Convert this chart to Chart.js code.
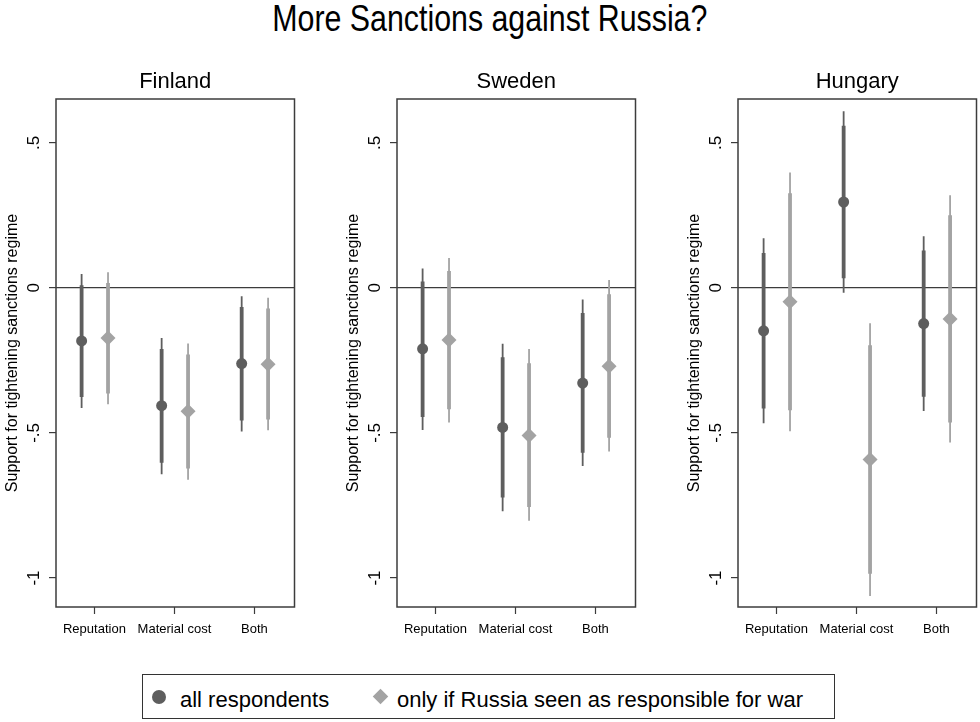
<!DOCTYPE html>
<html>
<head>
<meta charset="utf-8">
<title>More Sanctions against Russia?</title>
<script src="https://cdn.jsdelivr.net/npm/chart.js@4/dist/chart.umd.min.js"></script>
<style>
  html, body { margin: 0; padding: 0; background: #fff; }
  body { width: 980px; height: 722px; position: relative; overflow: hidden;
         font-family: "Liberation Sans", Arial, sans-serif; color: #000; }
  #title { position: absolute; left: 0; top: 0; width: 980px; text-align: center;
           font-size: 37px; line-height: 37px; white-space: nowrap;
           transform: scaleX(0.82); transform-origin: 489px 0; }
  .panel { position: absolute; top: 50px; width: 302px; height: 600px; }
  #legend { position: absolute; left: 142px; top: 674px; width: 693px; height: 45px;
            box-sizing: border-box; border: 1px solid #333; }
  .item { position: absolute; top: 14px; font-size: 22px; line-height: 22px; white-space: nowrap; }
  .dot { position: absolute; width: 14px; height: 14px; border-radius: 50%; }
  .diamond { position: absolute; width: 11px; height: 11px; transform: rotate(45deg); }
</style>
</head>
<body>
<div id="title">More Sanctions against Russia?</div>
<div class="panel" style="left:0px"><canvas id="p0" width="302" height="600"></canvas></div>
<div class="panel" style="left:341px"><canvas id="p1" width="302" height="600"></canvas></div>
<div class="panel" style="left:682px"><canvas id="p2" width="302" height="600"></canvas></div>
<div id="legend"></div>

<script>
// Treatment categories, country panels and the two respondent groups
const categories = ['Reputation', 'Material cost', 'Both'];
const countries = ['Finland', 'Sweden', 'Hungary'];
const seriesNames = ['all respondents', 'only if Russia seen as responsible for war'];
const yTicks = [-1, -0.5, 0, 0.5];
const yTitle = 'Support for tightening sanctions regime';

// Rows: Finland, Sweden, Hungary. Columns follow `categories`.
// All respondents: point estimate, inner (thick) interval, outer (thin) interval
const allEst  = [[-0.183, -0.406, -0.261], [-0.210, -0.481, -0.328], [-0.148,  0.296, -0.123]];
const allLo90 = [[-0.376, -0.603, -0.457], [-0.445, -0.723, -0.568], [-0.416,  0.033, -0.375]];
const allHi90 = [[ 0.009, -0.211, -0.066], [ 0.022, -0.239, -0.087], [ 0.120,  0.559,  0.129]];
const allLo95 = [[-0.414, -0.642, -0.495], [-0.490, -0.770, -0.614], [-0.467, -0.017, -0.424]];
const allHi95 = [[ 0.048, -0.173, -0.029], [ 0.067, -0.193, -0.040], [ 0.171,  0.609,  0.178]];

// Respondents who see Russia as responsible for the war
const respEst  = [[-0.173, -0.425, -0.263], [-0.180, -0.509, -0.270], [-0.048, -0.592, -0.107]];
const respLo90 = [[-0.364, -0.623, -0.454], [-0.418, -0.755, -0.517], [-0.422, -0.985, -0.464]];
const respHi90 = [[ 0.017, -0.230, -0.071], [ 0.058, -0.260, -0.022], [ 0.326, -0.198,  0.250]];
const respLo95 = [[-0.401, -0.661, -0.491], [-0.464, -0.803, -0.564], [-0.494, -1.062, -0.533]];
const respHi95 = [[ 0.054, -0.192, -0.034], [ 0.103, -0.211,  0.027], [ 0.398, -0.122,  0.319]];

// Styling
const DARK = '#5e5e5e';
const LIGHT = '#a3a3a3';
const INK = '#3c3c3c';
const OFFSETS = [-0.16, 0.17];   // horizontal dodge of the two groups within a category

Chart.defaults.font.family = "'Liberation Sans', Arial, sans-serif";
Chart.defaults.color = '#000';

function fmtTick(v) {
  if (v === 0) return '0';
  return (v < 0 ? '-' : '') + String(Math.abs(v)).replace(/^0\./, '.');
}

// Frame around the plot region
const framePlugin = {
  id: 'frame',
  afterDraw(chart) {
    const { ctx, chartArea: a } = chart;
    ctx.save();
    ctx.strokeStyle = INK;
    ctx.lineWidth = 1.5;
    ctx.strokeRect(a.left, a.top, a.right - a.left, a.bottom - a.top);
    ctx.restore();
  }
};

function panelDatasets(c) {
  const groups = [
    { est: allEst[c], lo90: allLo90[c], hi90: allHi90[c], lo95: allLo95[c], hi95: allHi95[c],
      color: DARK, style: 'circle', radius: 5.5, off: OFFSETS[0], name: seriesNames[0] },
    { est: respEst[c], lo90: respLo90[c], hi90: respHi90[c], lo95: respLo95[c], hi95: respHi95[c],
      color: LIGHT, style: 'rectRot', radius: 7.5, off: OFFSETS[1], name: seriesNames[1] }
  ];
  const sets = [];
  groups.forEach(g => {
    sets.push({
      label: g.name,
      data: g.est.map((v, j) => ({ x: j + 1 + g.off, y: v })),
      pointStyle: g.style, pointRadius: g.radius, pointBorderWidth: 0,
      backgroundColor: g.color, borderColor: g.color, order: 0
    });
    g.est.forEach((v, j) => {
      const x = j + 1 + g.off;
      sets.push({
        data: [{ x, y: g.lo90[j] }, { x, y: g.hi90[j] }],
        showLine: true, borderColor: g.color, borderWidth: 3.8, pointRadius: 0, order: 1
      });
      sets.push({
        data: [{ x, y: g.lo95[j] }, { x, y: g.hi95[j] }],
        showLine: true, borderColor: g.color, borderWidth: 1.8, pointRadius: 0, order: 2
      });
    });
  });
  return sets;
}

countries.forEach((country, c) => {
  new Chart(document.getElementById('p' + c), {
    type: 'scatter',
    data: { datasets: panelDatasets(c) },
    plugins: [framePlugin],
    options: {
      responsive: false,
      animation: false,
      events: [],
      layout: { padding: { top: 19, right: 4, left: 0, bottom: 0 } },
      plugins: {
        legend: { display: false },
        tooltip: { enabled: false },
        title: {
          display: true, text: country, fullSize: false, color: '#000',
          font: { size: 22, weight: 'normal' }, padding: { top: 0, bottom: 3.6 }
        }
      },
      scales: {
        x: {
          type: 'linear', min: 0.52, max: 3.5,
          afterBuildTicks: s => { s.ticks = categories.map((_, i) => ({ value: i + 1 })); },
          afterFit: s => { s.height = 43; },
          ticks: { callback: v => categories[v - 1], font: { size: 13 }, padding: 8,
                   minRotation: 0, maxRotation: 0, autoSkip: false, color: '#000' },
          grid: { drawOnChartArea: false, tickLength: 7, tickColor: INK, tickWidth: 1.2 },
          border: { display: false }
        },
        y: {
          min: -1.1, max: 0.651,
          afterBuildTicks: s => { s.ticks = yTicks.map(v => ({ value: v })); },
          afterFit: s => { s.width = 56; },
          ticks: { callback: fmtTick, font: { size: 17 }, minRotation: 90, maxRotation: 90,
                   crossAlign: 'center', padding: 5, autoSkip: false, color: '#000' },
          grid: {
            tickLength: 7, tickColor: INK, tickWidth: 1.2, lineWidth: 1.2,
            color: ctx => (ctx.tick && ctx.tick.value === 0) ? INK : 'rgba(0,0,0,0)'
          },
          border: { display: false },
          title: { display: true, text: yTitle, color: '#000', font: { size: 16 },
                   padding: { top: 3, bottom: 0 } }
        }
      }
    }
  });
});

// Legend built from the series names
const legend = document.getElementById('legend');
const legendItems = [
  { name: seriesNames[0], color: DARK, marker: 'dot', mx: 9, tx: 37 },
  { name: seriesNames[1], color: LIGHT, marker: 'diamond', mx: 232, tx: 254 }
];
legendItems.forEach(it => {
  const m = document.createElement('div');
  m.className = it.marker;
  m.style.background = it.color;
  m.style.left = it.mx + 'px';
  m.style.top = (it.marker === 'dot' ? 15 : 16) + 'px';
  legend.appendChild(m);
  const t = document.createElement('div');
  t.className = 'item';
  t.style.left = it.tx + 'px';
  t.textContent = it.name;
  legend.appendChild(t);
});
</script>
</body>
</html>
